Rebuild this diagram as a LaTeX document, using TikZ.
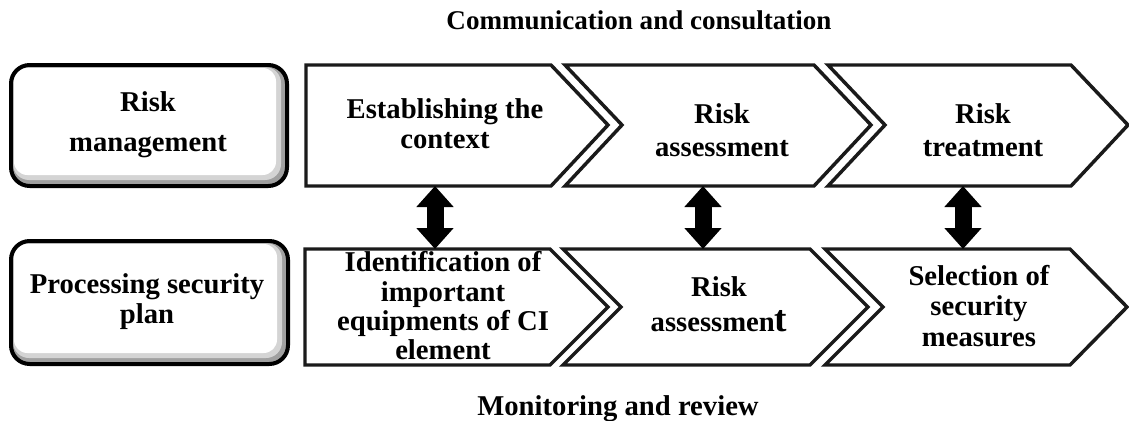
\documentclass[tikz,border=0pt]{standalone}
\usepackage{fontspec}
\setmainfont{Liberation Serif}
\usetikzlibrary{arrows.meta}
\definecolor{edgecolour}{HTML}{1A1A1A}
\definecolor{shadecolour}{HTML}{A0A0A0}

\begin{document}
\begin{tikzpicture}[x=0.75pt,y=-0.75pt,
  txt/.style={font=\fontsize{21.5}{#1}\selectfont\bfseries, align=center, inner sep=0pt},
  txt/.default=30,
  chevron/.style={draw=edgecolour, line width=2.6pt, fill=white, line join=miter},
  panel/.style={draw=black, line width=3pt, rounded corners=14},
  updown/.style={black, line width=12.75pt, {Triangle[width=27pt,length=15.75pt]}-{Triangle[width=27pt,length=15.75pt]}}]
\useasboundingbox (0,0) rectangle (1129,421);

% Communication and consultation
\node[txt, font=\fontsize{20.3}{24}\selectfont\bfseries, anchor=base] (comm) at (639,30) {Communication and consultation};

% Risk management
\fill[shadecolour, rounded corners=14] (11,65) rectangle (287,186);
\fill[shadecolour!45, rounded corners=12] (13,67) rectangle (281,180);
\fill[white, rounded corners=10] (14,68) rectangle (276,175);
\draw[panel] (11,65) rectangle (287,186);
\node[txt=30] (rm) at (148,125) {Risk\\management};

% Processing security plan
\fill[shadecolour, rounded corners=14] (11,241) rectangle (288,364);
\fill[shadecolour!45, rounded corners=12] (13,243) rectangle (282,358);
\fill[white, rounded corners=10] (14,244) rectangle (277,353);
\draw[panel] (11,241) rectangle (288,364);
\node[txt=22.5] (psp) at (147,302) {Processing security\\plan};

% Establishing the context
\draw[chevron] (306,65) -- (551,65) -- (608,125) -- (551,186) -- (306,186) -- cycle;
\node[txt=22.5] (ctx) at (445,124) {Establishing the\\context};
% Risk assessment
\draw[chevron] (565,65) -- (814,65) -- (871,125) -- (814,186) -- (565,186) -- (622,125) -- cycle;
\node[txt=24.75] (ra) at (722,130) {Risk\\assessment};
% Risk treatment
\draw[chevron] (828,65) -- (1071,65) -- (1128,125) -- (1071,186) -- (828,186) -- (885,125) -- cycle;
\node[txt=24.75] (rt) at (983,130) {Risk\\treatment};

% Identification of important equipments
\draw[chevron] (305,249) -- (550,249) -- (608,307) -- (550,365) -- (305,365) -- cycle;
\node[txt=22] (ide) at (443,306) {Identification of\\important\\equipments of CI\\element};
% Risk assessment (plan)
\draw[chevron] (563,249) -- (810,249) -- (868,307) -- (810,365) -- (563,365) -- (621,307) -- cycle;
\node[txt=26] (ra2) at (719,304) {Risk\\assessmen{\fontsize{28}{28}\selectfont t}};
% Selection of security measures
\draw[chevron] (825,249) -- (1070,249) -- (1127,307) -- (1070,365) -- (825,365) -- (883,307) -- cycle;
\node[txt=23] (sel) at (979,306) {Selection of\\security\\measures};

% Links between the two rows
\coordinate (ctx-s) at (435,186);
\coordinate (ide-n) at (435,249);
\coordinate (ra-s) at (703,186);
\coordinate (ra2-n) at (703,249);
\coordinate (rt-s) at (963,186);
\coordinate (sel-n) at (963,249);
\draw[updown] (ctx-s) -- (ide-n);
\draw[updown] (ra-s) -- (ra2-n);
\draw[updown] (rt-s) -- (sel-n);

% Monitoring and review
\node[txt, anchor=base] (mon) at (618,415) {Monitoring and review};

\end{tikzpicture}
\end{document}
